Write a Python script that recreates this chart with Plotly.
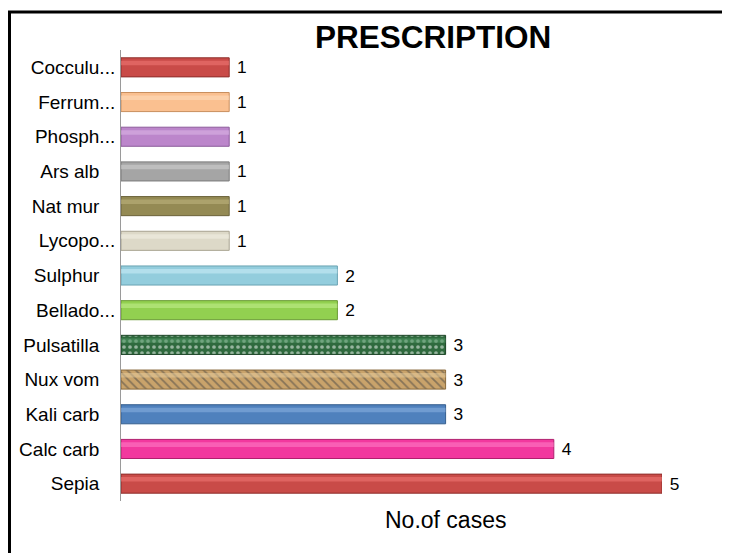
import plotly.graph_objects as go

categories = ["Sepia", "Calc carb", "Kali carb", "Nux vom", "Pulsatilla", "Bellado...",
              "Sulphur", "Lycopo...", "Nat mur", "Ars alb", "Phosph...", "Ferrum...", "Cocculu..."]
values = [5, 4, 3, 3, 3, 2, 2, 1, 1, 1, 1, 1, 1]
bar_colors = ["#C94B48", "#F2389E", "#4F81BD", "#C9A36B", "#2F6A3E", "#92D050",
              "#93CDDD", "#DDD9C8", "#948A54", "#A5A5A5", "#BC86CB", "#FAC090", "#C94B48"]
edge_colors = ["#8E2F2C", "#B0206E", "#355E8F", "#8A6A3C", "#1C4426", "#6A9A35",
               "#6AA3B3", "#A8A390", "#6B633A", "#7A7A7A", "#8C5B9A", "#C98F5E", "#8E2F2C"]
highlight_colors = ["#F07A76", "#FF80C8", "#8DB3E2", "#E6CC9C", "#4E9562", "#C2EE8F",
                    "#CDEFF7", "#F3F1E6", "#C0B67F", "#D4D4D4", "#DDB8E8", "#FDDCBE", "#F07A76"]
patterns = ["", "", "", "\\", ".", "", "", "", "", "", "", "", ""]
pattern_fg = ["#C94B48", "#F2389E", "#4F81BD", "#E9D2A2", "#6FA87E", "#92D050",
              "#93CDDD", "#DDD9C8", "#948A54", "#A5A5A5", "#BC86CB", "#FAC090", "#C94B48"]

FONT = "Liberation Sans"
BAR_W = 0.55
NB = "\u00a0"

# pixel layout (figure coordinates)
FIG_W, FIG_H = 730, 553
M_L, M_R, M_T, M_B = 113, 76, 42, 60
W_PLOT = FIG_W - M_L - M_R
H_PLOT = FIG_H - M_T - M_B

def px_to_paper(px, py):
    return (px - M_L) / W_PLOT, (FIG_H - M_B - py) / H_PLOT

tick_text = [c if c.endswith("...") else c + NB * 3 for c in categories]

fig = go.Figure()
fig.add_trace(go.Bar(
    y=categories, x=values, orientation="h", width=BAR_W,
    marker=dict(color=bar_colors, line=dict(color=edge_colors, width=1),
                pattern=dict(shape=patterns, fgcolor=pattern_fg, size=6, solidity=0.3)),
    text=[NB + str(v) for v in values], textposition="outside", cliponaxis=False,
    textfont=dict(family=FONT, size=20, color="#000000"),
    hoverinfo="skip", showlegend=False,
))
# highlight stripe for bevel look
fig.add_trace(go.Bar(
    y=categories, x=values, orientation="h", width=0.13, offset=0.06,
    marker=dict(color=highlight_colors, opacity=0.55, line=dict(width=0)),
    hoverinfo="skip", showlegend=False,
))

tx, ty = px_to_paper(425, 29)
ax_x, ax_y = px_to_paper(437, 512)
bx0, by1 = px_to_paper(1.5, 4)

fig.update_layout(
    width=FIG_W, height=FIG_H,
    margin=dict(l=M_L, r=M_R, t=M_T, b=M_B, autoexpand=False),
    paper_bgcolor="white", plot_bgcolor="white",
    barmode="overlay",
    font=dict(family=FONT, size=19, color="#000000"),
    xaxis=dict(range=[0, 5], showgrid=False, zeroline=False, showline=False,
               showticklabels=False, ticks="", fixedrange=True, automargin=False),
    yaxis=dict(showgrid=False, zeroline=False, showline=True, linecolor="#9A9A9A",
               linewidth=1, ticks="", ticklabelstandoff=1, automargin=False,
               tickmode="array", tickvals=categories, ticktext=tick_text,
               tickfont=dict(family=FONT, size=19, color="#000000"),
               categoryorder="array", categoryarray=categories, fixedrange=True),
    annotations=[
        dict(text="<b>PRESCRIPTION</b>", x=tx, y=ty, xref="paper", yref="paper",
             xanchor="center", yanchor="middle", showarrow=False,
             font=dict(family=FONT, size=31.5, color="#000000")),
        dict(text="No.of cases", x=ax_x, y=ax_y, xref="paper", yref="paper",
             xanchor="center", yanchor="middle", showarrow=False,
             font=dict(family=FONT, size=23, color="#000000")),
    ],
    shapes=[
        dict(type="rect", xref="paper", yref="paper",
             x0=bx0, x1=1.5, y0=-0.5, y1=by1,
             line=dict(color="#000000", width=3), fillcolor="rgba(0,0,0,0)", layer="above"),
    ],
)

fig.write_html("out.html")
